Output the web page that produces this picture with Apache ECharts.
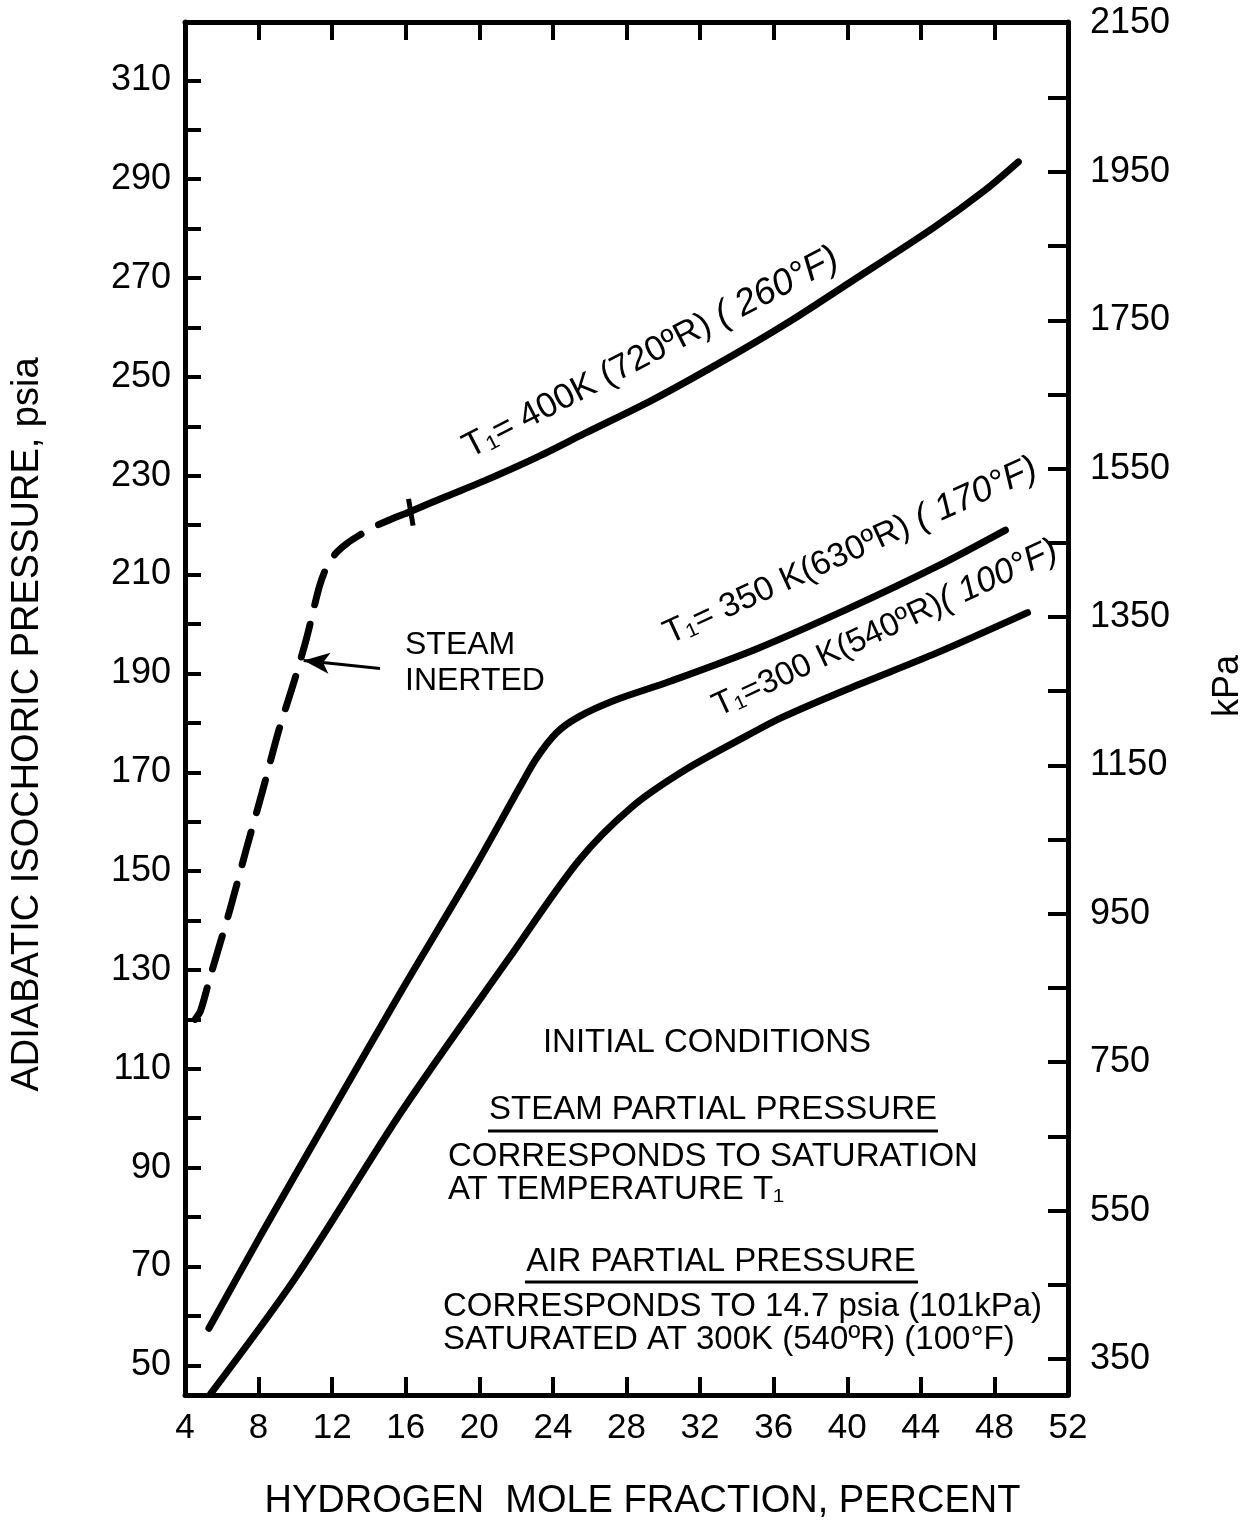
<!DOCTYPE html>
<html>
<head>
<meta charset="utf-8">
<script src="https://cdn.jsdelivr.net/npm/echarts@6/dist/echarts.min.js"></script>
<style>
  html, body { margin: 0; padding: 0; background: #fff; }
  #chart { width: 1249px; height: 1526px; }
</style>
</head>
<body>
<div id="chart"></div>
<script>
// 刻度
var psiaLabels = [50, 70, 90, 110, 130, 150, 170, 190, 210, 230, 250, 270, 290, 310];
var psiaTicks = [50, 60, 70, 80, 90, 100, 110, 120, 130, 140, 150, 160, 170, 180, 190, 200, 210, 220, 230, 240, 250, 260, 270, 280, 290, 300, 310];
var kpaLabels = [350, 550, 750, 950, 1150, 1350, 1550, 1750, 1950, 2150];
var kpaTicks = [350, 450, 550, 650, 750, 850, 950, 1050, 1150, 1250, 1350, 1450, 1550, 1650, 1750, 1850, 1950, 2050];

// T1 = 400K, steam inerted (dashed part)
var inertX = [4.55, 4.85, 5.36, 6.45, 7.3, 8.2, 9.1, 9.9, 10.6, 11.3, 11.7, 12.2, 12.8, 13.5, 14.3, 15.2, 16.1];
var inertY = [120, 121.8, 128.5, 142.3, 154, 166, 178.5, 188, 197, 207.5, 211.5, 214.3, 216.3, 218, 219.7, 221.2, 222.5];

// T1 = 400K (solid part)
var t400X = [16.1, 18, 20.3, 23, 25.7, 29.5, 33.8, 37, 40.1, 44.7, 47.5, 49.3];
var t400Y = [222.5, 225.5, 229, 233.5, 238.5, 245.5, 254.4, 261.5, 269, 280.2, 287.8, 293.5];

// T1 = 350K
var t350X = [5.3, 8.1, 12, 15.8, 19.7, 22.2, 23.1, 24.2, 25.4, 27.4, 30.3, 35.1, 40, 44.9, 48.6];
var t350Y = [57.5, 76.2, 101.5, 126, 150.4, 167, 172.8, 178, 181.2, 184.6, 188.3, 195, 203, 211.7, 219];

// T1 = 300K
var t300X = [5.4, 10, 15.8, 21.6, 25.4, 28.3, 31.2, 34.6, 36.4, 40, 44.9, 49.8];
var t300Y = [44.3, 67.7, 101.5, 132.3, 152.1, 163, 170.5, 177.5, 181, 186.8, 194.2, 202.3];

// 虚线与实线分界的小竖线，以及 STEAM INERTED 箭头
var breakX = [16.15, 16.4];
var breakY = [225.3, 219.9];
var arrowFrom = [14.6, 191.0];
var arrowTo = [10.45, 192.6];

function zip(xs, ys) {
  return xs.map(function (x, i) { return [x, ys[i]]; });
}

var FONT = 'Liberation Sans';
var black = '#000';

function text(x, y, s, size, extra) {
  var style = { text: s, x: 0, y: 0, fill: black, font: size + 'px "' + FONT + '"', align: 'left', verticalAlign: 'middle' };
  for (var k in (extra || {})) style[k] = extra[k];
  return { type: 'text', x: x, y: y, style: style };
}

function curveLabel(x, y, main, hand, deg, size) {
  return {
    type: 'text',
    x: x,
    y: y,
    rotation: deg * Math.PI / 180,
    style: {
      text: '{n|' + main + '}{h|' + hand + '}',
      x: 0,
      y: 0,
      align: 'left',
      verticalAlign: 'bottom',
      rich: {
        n: { fontFamily: FONT, fontSize: size, fill: black },
        h: { fontFamily: FONT, fontSize: size + 2, fontStyle: 'italic', fill: black }
      }
    }
  };
}

var myChart = echarts.init(document.getElementById('chart'));

var option = {
  backgroundColor: '#fff',
  animation: false,
  grid: { left: 185, right: 181, top: 22, bottom: 129, containLabel: false },
  xAxis: [
    {
      type: 'value',
      position: 'bottom',
      min: 4,
      max: 52,
      interval: 4,
      name: 'HYDROGEN  MOLE FRACTION, PERCENT',
      nameLocation: 'middle',
      nameGap: 88,
      nameTextStyle: { color: black, fontSize: 38, fontFamily: FONT, padding: [0, 0, 0, 32] },
      axisLine: { lineStyle: { color: black, width: 5 } },
      axisTick: { inside: true, length: 18, lineStyle: { color: black, width: 4 } },
      axisLabel: { color: black, fontSize: 35, fontFamily: FONT, margin: 16 },
      splitLine: { show: false }
    },
    {
      type: 'value',
      position: 'top',
      min: 4,
      max: 52,
      interval: 4,
      axisLine: { lineStyle: { color: black, width: 5 } },
      axisTick: { inside: true, length: 18, lineStyle: { color: black, width: 4 } },
      axisLabel: { show: false },
      splitLine: { show: false }
    }
  ],
  yAxis: [
    {
      type: 'value',
      position: 'left',
      min: 44,
      max: 321.8,
      name: 'ADIABATIC ISOCHORIC PRESSURE, psia',
      nameLocation: 'middle',
      nameGap: 138,
      nameRotate: 90,
      nameTextStyle: { color: black, fontSize: 38, fontFamily: FONT, padding: [0, 32, 0, 0] },
      axisLine: { show: true, lineStyle: { color: black, width: 5 } },
      axisTick: { show: true, inside: true, length: 16, customValues: psiaTicks, lineStyle: { color: black, width: 4 } },
      axisLabel: { color: black, fontSize: 36, fontFamily: FONT, margin: 14, customValues: psiaLabels },
      splitLine: { show: false }
    },
    {
      type: 'value',
      position: 'right',
      min: 301.5,
      max: 2152,
      axisLine: { show: true, lineStyle: { color: black, width: 5 } },
      axisTick: { show: true, inside: true, length: 20, customValues: kpaTicks, lineStyle: { color: black, width: 4 } },
      axisLabel: {
        color: black, fontSize: 36, fontFamily: FONT, margin: 22, customValues: kpaLabels,
        formatter: function (v) { return String(v); }
      },
      splitLine: { show: false }
    }
  ],
  series: [
    {
      name: 'steam inerted',
      type: 'line',
      data: zip(inertX, inertY),
      symbol: 'none',
      smooth: 0.3,
      lineStyle: { color: black, width: 7, type: [34, 20], cap: 'round' }
    },
    {
      name: '400K',
      type: 'line',
      data: zip(t400X, t400Y),
      symbol: 'none',
      smooth: 0.3,
      lineStyle: { color: black, width: 7, cap: 'round' }
    },
    {
      name: '350K',
      type: 'line',
      data: zip(t350X, t350Y),
      symbol: 'none',
      smooth: 0.3,
      lineStyle: { color: black, width: 7, cap: 'round' }
    },
    {
      name: '300K',
      type: 'line',
      data: zip(t300X, t300Y),
      symbol: 'none',
      smooth: 0.3,
      lineStyle: { color: black, width: 7, cap: 'round' }
    },
    {
      name: 'break',
      type: 'line',
      data: zip(breakX, breakY),
      symbol: 'none',
      lineStyle: { color: black, width: 5 },
      markLine: {
        silent: true,
        symbol: ['none', 'arrow'],
        symbolSize: [16, 26],
        label: { show: false },
        lineStyle: { color: black, width: 3, type: 'solid' },
        data: [[{ coord: arrowFrom }, { coord: arrowTo }]]
      }
    }
  ],
  graphic: [
    {
      type: 'text',
      x: 1228,
      y: 686,
      rotation: Math.PI / 2,
      style: { text: 'kPa', x: 0, y: 0, fill: black, font: '36px "' + FONT + '"', align: 'center', verticalAlign: 'middle' }
    },
    curveLabel(474, 466, 'T₁= 400K (720ºR) ', '( 260°F)', 27.5, 35),
    curveLabel(673, 652, 'T₁= 350 K(630ºR) ', '( 170°F)', 24.5, 34),
    curveLabel(722, 724, 'T₁=300 K(540ºR)', '( 100°F)', 25, 33),
    text(405, 645, 'STEAM', 32),
    text(405, 681, 'INERTED', 32),
    text(707, 1043, 'INITIAL CONDITIONS', 33, { align: 'center' }),
    text(713, 1110, 'STEAM PARTIAL PRESSURE', 33, { align: 'center' }),
    { type: 'line', shape: { x1: 488, y1: 1131, x2: 938, y2: 1131 }, style: { stroke: black, lineWidth: 3 } },
    text(448, 1157, 'CORRESPONDS TO SATURATION', 33),
    text(448, 1190, 'AT TEMPERATURE T₁', 33),
    text(721, 1262, 'AIR PARTIAL PRESSURE', 33, { align: 'center' }),
    { type: 'line', shape: { x1: 525, y1: 1282, x2: 918, y2: 1282 }, style: { stroke: black, lineWidth: 3 } },
    text(443, 1307, 'CORRESPONDS TO 14.7 psia (101kPa)', 33),
    text(443, 1340, 'SATURATED AT 300K (540ºR) (100°F)', 33)
  ]
};

myChart.setOption(option);
</script>
</body>
</html>
